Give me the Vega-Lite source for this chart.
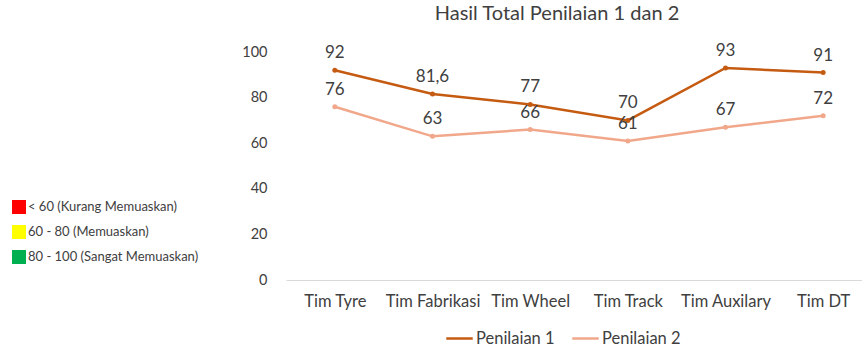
{
  "$schema": "https://vega.github.io/schema/vega-lite/v6.json",
  "width": 586,
  "height": 228,
  "autosize": {"type": "none"},
  "padding": {"left": 286, "top": 52, "right": 0, "bottom": 68},
  "background": "white",
  "title": {"text": "Hasil Total Penilaian 1 dan 2", "anchor": "middle", "frame": "group", "dx": -22, "offset": 18, "fontSize": 20, "fontWeight": "normal", "color": "#404040", "font": "Lato"},
  "config": {
    "locale": {"number": {"decimal": ",", "thousands": ".", "grouping": [3], "currency": ["", ""]}},
    "view": {"stroke": null},
    "font": "Lato"
  },
  "datasets": {
    "scores": [
      {"tim": "Tim Tyre", "seri": "Penilaian 1", "nilai": 92},
      {"tim": "Tim Fabrikasi", "seri": "Penilaian 1", "nilai": 81.6},
      {"tim": "Tim Wheel", "seri": "Penilaian 1", "nilai": 77},
      {"tim": "Tim Track", "seri": "Penilaian 1", "nilai": 70},
      {"tim": "Tim Auxilary", "seri": "Penilaian 1", "nilai": 93},
      {"tim": "Tim DT", "seri": "Penilaian 1", "nilai": 91},
      {"tim": "Tim Tyre", "seri": "Penilaian 2", "nilai": 76},
      {"tim": "Tim Fabrikasi", "seri": "Penilaian 2", "nilai": 63},
      {"tim": "Tim Wheel", "seri": "Penilaian 2", "nilai": 66},
      {"tim": "Tim Track", "seri": "Penilaian 2", "nilai": 61},
      {"tim": "Tim Auxilary", "seri": "Penilaian 2", "nilai": 67},
      {"tim": "Tim DT", "seri": "Penilaian 2", "nilai": 72}
    ],
    "kategori": [
      {"kategori": "< 60 (Kurang Memuaskan)"},
      {"kategori": "60 - 80 (Memuaskan)"},
      {"kategori": "80 - 100 (Sangat Memuaskan)"}
    ]
  },
  "data": {"name": "scores"},
  "layer": [
    {
      "data": {"name": "kategori"},
      "mark": {"type": "square", "opacity": 0},
      "encoding": {
        "fill": {
          "field": "kategori", "type": "nominal",
          "scale": {"domain": ["< 60 (Kurang Memuaskan)", "60 - 80 (Memuaskan)", "80 - 100 (Sangat Memuaskan)"], "range": ["#FF0000", "#FFFF00", "#00B050"]},
          "legend": {"orient": "none", "legendX": -274, "legendY": 148, "title": null, "symbolType": "square", "symbolSize": 196, "symbolOpacity": 1, "symbolStrokeWidth": 0, "labelFontSize": 13, "labelLimit": 400, "labelColor": "#404040", "rowPadding": 11, "labelOffset": 2, "labelFont": "Lato",
            "encode": {"symbols": {"update": {"opacity": {"value": 1}}}}}
        }
      }
    },
    {
      "mark": {"type": "line", "strokeWidth": 2.5},
      "encoding": {
        "x": {"field": "tim", "type": "nominal", "sort": ["Tim Tyre", "Tim Fabrikasi", "Tim Wheel", "Tim Track", "Tim Auxilary", "Tim DT"],
          "scale": {"type": "point", "padding": 0.5},
          "axis": {"title": null, "labelAngle": 0, "ticks": false, "domainColor": "#D9D9D9", "domainWidth": 1, "labelPadding": 13, "labelFontSize": 16.5, "labelColor": "#404040", "labelFont": "Lato", "grid": false}},
        "y": {"field": "nilai", "type": "quantitative", "scale": {"domain": [0, 100]},
          "axis": {"title": null, "values": [0, 20, 40, 60, 80, 100], "domain": false, "ticks": false, "grid": false, "labelPadding": 19, "labelFontSize": 14.5, "labelColor": "#404040", "labelFont": "Lato"}},
        "color": {"field": "seri", "type": "nominal", "scale": {"domain": ["Penilaian 1", "Penilaian 2"], "range": ["#C55A11", "#F1A78A"]},
          "legend": {"orient": "none", "legendX": 159, "legendY": 272, "direction": "horizontal", "title": null, "symbolType": "stroke", "symbolStrokeWidth": 2.5, "symbolSize": 700, "labelFontSize": 16.5, "labelColor": "#404040", "labelFont": "Lato", "columnPadding": 12, "labelOffset": 2}}
      }
    },
    {
      "mark": {"type": "point", "filled": true, "size": 25, "opacity": 1},
      "encoding": {
        "x": {"field": "tim", "type": "nominal", "sort": ["Tim Tyre", "Tim Fabrikasi", "Tim Wheel", "Tim Track", "Tim Auxilary", "Tim DT"]},
        "y": {"field": "nilai", "type": "quantitative"},
        "color": {"field": "seri", "type": "nominal"}
      }
    },
    {
      "mark": {"type": "text", "fontSize": 17, "color": "#404040", "dy": -17, "baseline": "middle", "font": "Lato"},
      "encoding": {
        "x": {"field": "tim", "type": "nominal", "sort": ["Tim Tyre", "Tim Fabrikasi", "Tim Wheel", "Tim Track", "Tim Auxilary", "Tim DT"]},
        "y": {"field": "nilai", "type": "quantitative"},
        "text": {"field": "nilai", "type": "quantitative", "format": ",.1~f"}
      }
    }
  ]
}
